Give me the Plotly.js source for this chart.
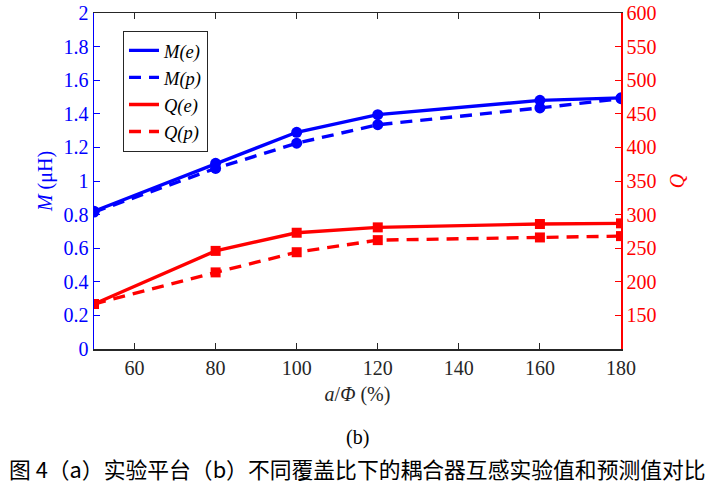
<!DOCTYPE html>
<html>
<head>
<meta charset="utf-8">
<script src="https://cdn.plot.ly/plotly-3.0.1.min.js"></script>
<style>
  body { margin: 0; background: white; }
  #chart { width: 728px; height: 493px; }
</style>
</head>
<body>
<div id="chart"></div>
<script>
// coverage ratio a/Phi (%)
var ratio = [50, 80, 100, 120, 160, 180];
// mutual inductance (uH)
var mExp = [0.82, 1.105, 1.29, 1.395, 1.48, 1.495];
var mPred = [0.815, 1.075, 1.225, 1.335, 1.435, 1.49];
// quality factor
var qExp = [167, 246, 273, 281, 286, 287];
var qPred = [167, 214, 244, 262, 266, 268];

var leftTicks = [0, 0.2, 0.4, 0.6, 0.8, 1, 1.2, 1.4, 1.6, 1.8, 2];
var rightTicks = [150, 200, 250, 300, 350, 400, 450, 500, 550, 600];
var xTicks = [60, 80, 100, 120, 140, 160, 180];

var blue = '#0000ff';
var red = '#ff0000';
var serif = 'Liberation Serif';

function lineTrace(y, name, color, dash, axis) {
  return {
    x: ratio, y: y, name: name, yaxis: axis,
    mode: 'lines', type: 'scatter',
    line: { color: color, width: 3.4, dash: dash }
  };
}

function markTrace(y, color, symbol, size, axis) {
  return {
    x: ratio, y: y, yaxis: axis, showlegend: false,
    mode: 'markers', type: 'scatter',
    marker: { color: color, symbol: symbol, size: size }
  };
}

var dash = '12px,8px';
var data = [
  lineTrace(mExp, '<i>M(e)</i>', blue, 'solid', 'y'),
  lineTrace(mPred, '<i>M(p)</i>', blue, dash, 'y'),
  lineTrace(qExp, '<i>Q(e)</i>', red, 'solid', 'y2'),
  lineTrace(qPred, '<i>Q(p)</i>', red, dash, 'y2'),
  markTrace(mExp, blue, 'circle', 11, 'y'),
  markTrace(mPred, blue, 'circle', 11, 'y'),
  markTrace(qExp, red, 'square', 10, 'y2'),
  markTrace(qPred, red, 'square', 10, 'y2')
];

var layout = {
  width: 728,
  height: 493,
  margin: { l: 94, r: 107, t: 13, b: 144 },
  paper_bgcolor: 'white',
  plot_bgcolor: 'white',
  font: { family: serif, size: 20, color: '#262626' },
  showlegend: true,
  legend: {
    x: 0.055, y: 0.947, xanchor: 'left', yanchor: 'top',
    bgcolor: 'white', bordercolor: '#262626', borderwidth: 1,
    font: { family: serif, size: 18.5, color: '#000' },
    tracegroupgap: 0
  },
  xaxis: {
    range: [50, 180],
    tickvals: xTicks,
    ticks: 'inside', ticklen: 6, tickcolor: '#262626',
    showline: true, linecolor: '#262626', linewidth: 1.5,
    mirror: 'ticks', showgrid: false, zeroline: false,
    tickfont: { family: serif, size: 20, color: '#262626' },
    title: { text: '<i>a</i>/<i>Φ</i> (%)', font: { family: serif, size: 20, color: '#262626' }, standoff: 9 }
  },
  yaxis: {
    range: [0, 2],
    tickvals: leftTicks,
    ticktext: leftTicks.map(String),
    ticks: 'inside', ticklen: 6, tickcolor: blue,
    showline: true, linecolor: blue, linewidth: 1.5,
    showgrid: false, zeroline: false,
    tickfont: { family: serif, size: 20, color: blue },
    title: { text: '<i>M</i> (μH)', font: { family: serif, size: 20, color: blue }, standoff: 5 }
  },
  yaxis2: {
    range: [100, 600],
    overlaying: 'y', side: 'right',
    tickvals: rightTicks,
    ticks: 'inside', ticklen: 6, tickcolor: red,
    showline: true, linecolor: red, linewidth: 1.5,
    showgrid: false, zeroline: false,
    tickfont: { family: serif, size: 20, color: red },
    title: { text: '<i>Q</i>', font: { family: serif, size: 20, color: red }, standoff: 14 }
  },
  annotations: [
    {
      text: '(b)', xref: 'paper', yref: 'paper', x: 0.5, y: -0.262,
      xanchor: 'center', yanchor: 'middle', showarrow: false,
      font: { family: serif, size: 20, color: '#000' }
    },
    {
      text: '图 4（a）实验平台（b）不同覆盖比下的耦合器互感实验值和预测值对比',
      xref: 'paper', yref: 'paper', x: 0.5, y: -0.355,
      xanchor: 'center', yanchor: 'middle', showarrow: false,
      font: { family: 'Noto Sans CJK SC', size: 21.8, color: '#000' }
    }
  ]
};

Plotly.newPlot('chart', data, layout, { displayModeBar: false, staticPlot: true });
</script>
</body>
</html>
